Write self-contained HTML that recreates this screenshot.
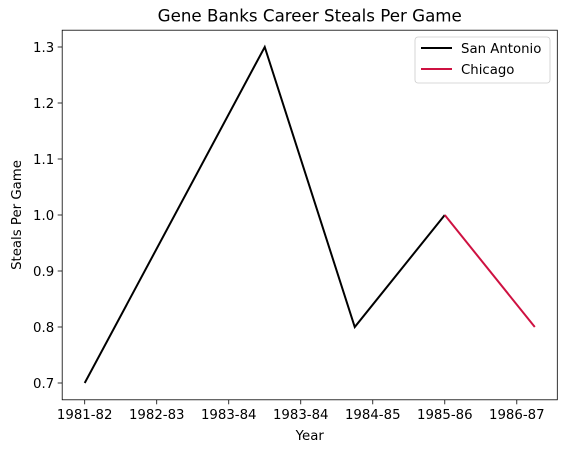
<!DOCTYPE html>
<html><head><meta charset="utf-8"><style>
body{margin:0;background:#fff;font-family:"DejaVu Sans","Liberation Sans",sans-serif;}
svg text{font-family:"DejaVu Sans","Liberation Sans",sans-serif;fill:#000;}
</style></head><body>
<svg id="chart" width="570" height="453"></svg>
<script>
const tickLabels = ["1981-82","1982-83","1983-84","1983-84","1984-85","1985-86","1986-87"];
const sanAntonioX = [0, 2.5, 3.75, 5];
const sanAntonioY = [0.7, 1.3, 0.8, 1.0];
const chicagoX = [5, 6.25];
const chicagoY = [1.0, 0.8];
const yTicks = [0.7, 0.8, 0.9, 1.0, 1.1, 1.2, 1.3];

const L=62.2, R=557.3, T=30.2, B=399.8;
const xMin=-0.3125, xMax=6.5625, yMin=0.67, yMax=1.33;
const sx=v=>L+(v-xMin)/(xMax-xMin)*(R-L);
const sy=v=>B-(v-yMin)/(yMax-yMin)*(B-T);
const svg=document.getElementById('chart');
const NS='http://www.w3.org/2000/svg';
function mk(tag,attrs,parent){const e=document.createElementNS(NS,tag);for(const k in attrs)e.setAttribute(k,attrs[k]);(parent||svg).appendChild(e);return e;}

let t=mk('text',{x:(L+R)/2,y:21.5,'text-anchor':'middle','font-size':16.7});
t.textContent='Gene Banks Career Steals Per Game';



tickLabels.forEach((lab,i)=>{
  const x=sx(i);
  const l=mk('line',{x1:x,x2:x,y1:B,y2:B+4.5,stroke:'#000','stroke-width':0.8});
  
  
  const tx=mk('text',{x:x,y:B+19,'text-anchor':'middle','font-size':13.3});
  tx.textContent=lab;
  
  
});
yTicks.forEach(v=>{
  const y=sy(v);
  const l=mk('line',{x1:L-4.5,x2:L,y1:y,y2:y,stroke:'#000','stroke-width':0.8});
  
  
  const tx=mk('text',{x:L-8,y:y+5,'text-anchor':'end','font-size':13.3});
  tx.textContent=v.toFixed(1);
  
  
});
t=mk('text',{x:(L+R)/2,y:440,'text-anchor':'middle','font-size':13.3});
t.textContent='Year';


t=mk('text',{x:21,y:(T+B)/2,'text-anchor':'middle','font-size':13.3,transform:`rotate(-90 21 ${(T+B)/2})`});
t.textContent='Steals Per Game';



function series(xs,ys,color,name){
  const p=mk('polyline',{points:xs.map((x,i)=>sx(x)+','+sy(ys[i])).join(' '),fill:'none',stroke:color,'stroke-width':2,'stroke-linejoin':'miter'});
  
  
}
series(sanAntonioX,sanAntonioY,'#000000','san-antonio-line');
series(chicagoX,chicagoY,'#ce1141','chicago-line');

const frame=mk('rect',{x:L,y:T,width:R-L,height:B-T,fill:'none',stroke:'#000','stroke-width':0.8});



const lg=mk('g',{});


mk('rect',{x:415,y:37,width:135,height:46,rx:3,fill:'#fff',stroke:'#ccc','stroke-width':0.8},lg);
[['San Antonio','#000000',48],['Chicago','#ce1141',69]].forEach(([n,c,y])=>{
  const e=mk('g',{},lg);
  
  
  mk('line',{x1:421,x2:452,y1:y,y2:y,stroke:c,'stroke-width':2},e);
  const tx=mk('text',{x:461,y:y+5,'font-size':13.3},e);
  tx.textContent=n;
});
</script>
</body></html>
